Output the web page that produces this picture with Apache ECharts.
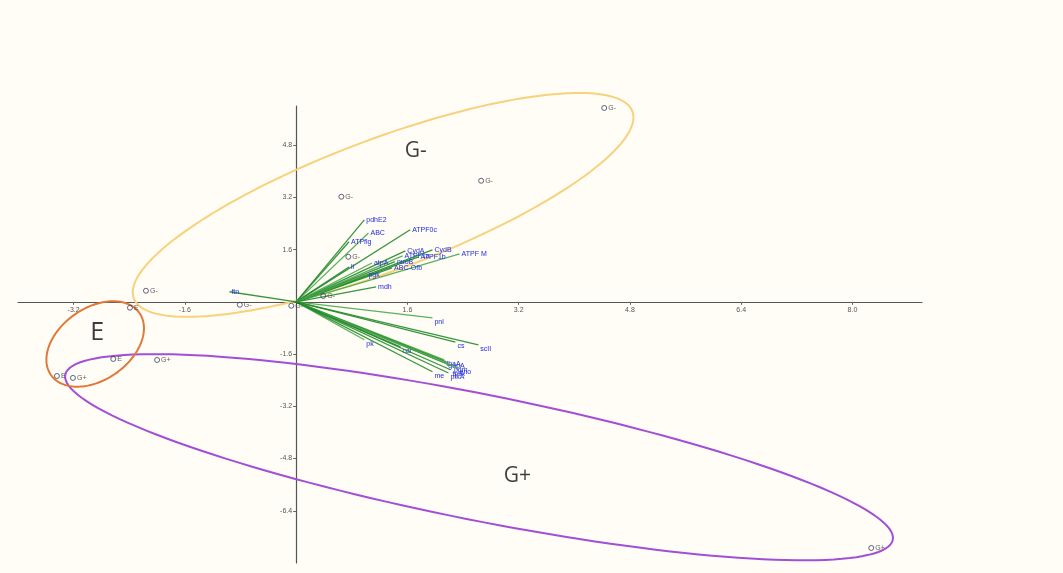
<!DOCTYPE html>
<html>
<head>
<meta charset="utf-8">
<script src="https://cdn.jsdelivr.net/npm/echarts@6/dist/echarts.min.js"></script>
<style>
  html, body { margin: 0; padding: 0; background: #fffdf6; }
  #chart { width: 1063px; height: 573px; }
</style>
</head>
<body>
<div id="chart"></div>
<script>
// Axis tick values
const xTicks = [-3.2, -1.6, 1.6, 3.2, 4.8, 6.4, 8.0];
const yTicks = [-6.4, -4.8, -3.2, -1.6, 1.6, 3.2, 4.8];

// Sample scores (component 1, component 2) and their group
const sampleGroups = ['G-', 'G-', 'G-', 'G-', 'G-', 'G-', 'G-', 'G-', 'E', 'E', 'E', 'G+', 'G+', 'G+'];
const sampleX = [4.43, 2.66, 0.65, -2.16, -0.81, 0.75, -0.07, 0.39, -2.39, -2.63, -3.44, -3.21, -2.00, 8.27];
const sampleY = [5.94, 3.71, 3.22, 0.34, -0.09, 1.38, -0.12, 0.18, -0.18, -1.75, -2.27, -2.33, -1.78, -7.54];

// Variable loadings (arrows from the origin)
const variableNames = [
  'pdhE2', 'ABC', 'ATPflg', 'ATPF0c', 'ATPF M', 'CydA', 'CydB', 'ATPF1a', 'ATPF1b',
  'li', 'atpA', 'ABC-Ofb', 'nuoB', 'pgk', 'mdh', 'ftn',
  'pnl', 'scII', 'cs', 'pk', 'me', 'cat', 'fbaA', 'gapA', 'pgm', 'eno', 'tpiA', 'pfkA'
];
const loadingX = [
  0.98, 1.04, 0.76, 1.64, 2.35, 1.57, 1.96, 1.53, 1.76,
  0.76, 1.09, 1.38, 1.42, 1.01, 1.15, -0.96,
  1.96, 2.62, 2.29, 0.98, 1.96, 1.50, 2.13, 2.16, 2.24, 2.32, 2.22, 2.19
];
const loadingY = [
  2.51, 2.11, 1.84, 2.21, 1.47, 1.56, 1.59, 1.41, 1.38,
  1.07, 1.19, 1.04, 1.23, 0.83, 0.46, 0.31,
  -0.49, -1.32, -1.23, -1.16, -2.14, -1.38, -1.78, -1.84, -1.96, -2.02, -2.08, -2.18
];

// Group ellipses: centre and two conjugate semi-diameters (data units)
const clusterNames = ['G-', 'G+', 'E'];
const ellipseCenterX = [1.25, 2.63, -2.89];
const ellipseCenterY = [2.97, -4.76, -1.29];
const ellipseAxis1X = [3.60, 5.95, 0.636];
const ellipseAxis1Y = [2.68, -2.53, 0.95];
const ellipseAxis2X = [0.00, -0.18, 0.296];
const ellipseAxis2Y = [-2.14, -1.89, -0.90];

// Group titles
const clusterLabelX = [1.72, 3.18, -2.86];
const clusterLabelY = [4.63, -5.33, -0.94];

const ellipseColors = ['#f6d27c', '#a24fd6', '#e0783a'];
const titleSizes = [21, 21, 25];

const X_MIN = -4, X_MAX = 9, Y_MIN = -8, Y_MAX = 6;
const GRID = { left: 18, top: 106, width: 904, height: 457 };

// Shift both axes (line, ticks, labels) so they cross at the origin
const xAxisOffset = -(GRID.height * (0 - Y_MIN) / (Y_MAX - Y_MIN));
const yAxisOffset = -(GRID.width * (0 - X_MIN) / (X_MAX - X_MIN));

const chart = echarts.init(document.getElementById('chart'), null, { renderer: 'canvas' });

const axisCommon = {
  type: 'value',
  axisLine: { onZero: false, lineStyle: { color: '#555', width: 1.2 } },
  splitLine: { show: false },
  axisTick: { show: true, length: 3, lineStyle: { color: '#666' } },
  axisLabel: { fontSize: 7, color: '#555', fontFamily: 'Liberation Sans', formatter: v => v.toFixed(1) }
};

const option = {
  backgroundColor: '#fffdf6',
  animation: false,
  grid: Object.assign({ containLabel: false, outerBoundsMode: 'none' }, GRID),
  xAxis: Object.assign({}, axisCommon, {
    min: X_MIN, max: X_MAX,
    position: 'bottom',
    offset: xAxisOffset,
    axisTick: Object.assign({}, axisCommon.axisTick, { customValues: xTicks }),
    axisLabel: Object.assign({}, axisCommon.axisLabel, { customValues: xTicks, margin: 5 })
  }),
  yAxis: Object.assign({}, axisCommon, {
    min: Y_MIN, max: Y_MAX,
    position: 'left',
    offset: yAxisOffset,
    axisTick: Object.assign({}, axisCommon.axisTick, { customValues: yTicks }),
    axisLabel: Object.assign({}, axisCommon.axisLabel, { customValues: yTicks, margin: 4 })
  }),
  series: [
    {
      // group ellipses
      type: 'custom',
      z: 1,
      clip: false,
      data: clusterNames.map((n, i) => [ellipseCenterX[i], ellipseCenterY[i]]),
      renderItem: function (params, api) {
        const i = params.dataIndex;
        const pts = [];
        const steps = 160;
        for (let k = 0; k <= steps; k++) {
          const t = 2 * Math.PI * k / steps;
          const c = Math.cos(t), s = Math.sin(t);
          pts.push(api.coord([
            ellipseCenterX[i] + c * ellipseAxis1X[i] + s * ellipseAxis2X[i],
            ellipseCenterY[i] + c * ellipseAxis1Y[i] + s * ellipseAxis2Y[i]
          ]));
        }
        return {
          type: 'polyline',
          shape: { points: pts },
          style: { fill: 'none', stroke: ellipseColors[i], lineWidth: 2 }
        };
      }
    },
    {
      // variable arrows
      type: 'custom',
      z: 3,
      clip: false,
      data: variableNames.map((n, i) => [loadingX[i], loadingY[i]]),
      renderItem: function (params, api) {
        const i = params.dataIndex;
        const o = api.coord([0, 0]);
        const p = api.coord([loadingX[i], loadingY[i]]);
        const below = loadingY[i] < 0;
        return {
          type: 'group',
          children: [
            {
              type: 'line',
              shape: { x1: o[0], y1: o[1], x2: p[0], y2: p[1] },
              style: { stroke: i % 3 === 1 ? '#4aa84a' : '#22892a', lineWidth: 1.3, opacity: 0.9 }
            },
            {
              type: 'text',
              x: p[0] + 2,
              y: p[1] + (below ? 1 : 0),
              style: {
                text: variableNames[i],
                fill: '#1f2ddb',
                fontSize: 7,
                fontFamily: 'Liberation Sans',
                textAlign: 'left', align: 'left',
                textVerticalAlign: below ? 'top' : 'middle',
                verticalAlign: below ? 'top' : 'middle'
              }
            }
          ]
        };
      }
    },
    {
      // sample scores
      type: 'scatter',
      z: 4,
      symbol: 'circle',
      symbolSize: 5,
      itemStyle: { color: 'rgba(0,0,0,0)', borderColor: '#3a3f66', borderWidth: 1 },
      label: {
        show: true, position: 'right', distance: 1,
        fontSize: 7, color: '#333', fontFamily: 'Liberation Sans',
        formatter: p => sampleGroups[p.dataIndex]
      },
      data: sampleX.map((x, i) => [x, sampleY[i]])
    },
    {
      // group titles
      type: 'scatter',
      z: 5,
      symbolSize: 0,
      silent: true,
      label: {
        show: true, position: 'inside',
        color: '#0a0a0a', fontFamily: 'Open Sans',
        formatter: p => clusterNames[p.dataIndex]
      },
      data: clusterLabelX.map((x, i) => ({ value: [x, clusterLabelY[i]], label: { fontSize: titleSizes[i] } }))
    }
  ]
};

chart.setOption(option);
</script>
</body>
</html>
